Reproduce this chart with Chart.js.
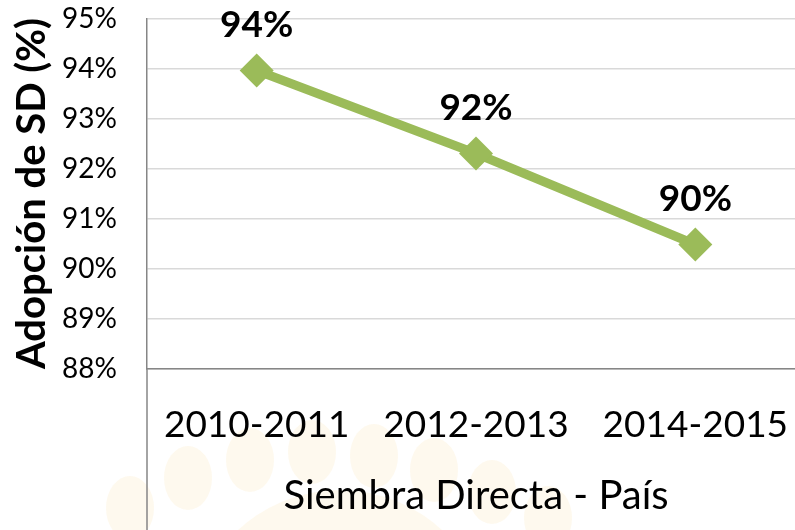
<!DOCTYPE html>
<html>
<head>
<meta charset="utf-8">
<script src="https://cdn.jsdelivr.net/npm/chart.js@4"></script>
<style>
  html, body { margin: 0; padding: 0; background: #fff; overflow: hidden; }
</style>
</head>
<body>
<canvas id="myChart" width="810" height="530"></canvas>
<script>
// datos
const periods = ["2010-2011", "2012-2013", "2014-2015"];
const adoption = [93.96, 92.3, 90.48];
const yTicks = [88, 89, 90, 91, 92, 93, 94, 95];

const green = "#9BBB59";
const axisGrey = "#868686";

// etiquetas de datos encima de cada punto
const valueLabels = {
    id: "valueLabels",
    afterDatasetsDraw(chart) {
        const c = chart.ctx;
        const meta = chart.getDatasetMeta(0);
        c.save();
        c.font = "bold 37px Lato";
        c.fillStyle = "#000";
        c.textAlign = "center";
        c.textBaseline = "middle";
        meta.data.forEach((pt, i) => {
            c.fillText(Math.round(adoption[i]) + "%", pt.x, pt.y - 45);
        });
        c.restore();
    }
};

// marca de agua tenue (sol) y la línea vertical que sigue hasta abajo
const background = {
    id: "background",
    beforeDraw(chart) {
        const c = chart.ctx;
        const a = chart.chartArea;
        c.save();
        c.fillStyle = "rgba(250, 215, 150, 0.16)";
        [[130, 508], [188, 478], [250, 460], [312, 452], [374, 456], [434, 470], [492, 492], [548, 518]]
            .forEach(([x, y]) => {
                c.beginPath();
                c.ellipse(x, y, 24, 32, 0, 0, Math.PI * 2);
                c.fill();
            });
        c.beginPath();
        c.arc(340, 640, 150, 0, Math.PI * 2);
        c.fill();

        c.strokeStyle = axisGrey;
        c.lineWidth = 1.5;
        c.beginPath();
        c.moveTo(a.left, a.bottom);
        c.lineTo(a.left, chart.height);
        c.stroke();
        c.restore();
    }
};

const ctx = document.getElementById("myChart");

new Chart(ctx, {
    type: "line",
    data: {
        labels: periods,
        datasets: [{
            data: adoption,
            borderColor: green,
            backgroundColor: green,
            borderWidth: 9,
            pointStyle: "rectRot",
            pointRadius: 17,
            pointBorderWidth: 0,
            pointBackgroundColor: green,
            tension: 0
        }]
    },
    options: {
        responsive: false,
        animation: false,
        layout: { autoPadding: false, padding: { left: 0, top: 18.5, right: 5, bottom: 10 } },
        plugins: {
            legend: { display: false },
            tooltip: { enabled: false }
        },
        scales: {
            x: {
                offset: true,
                afterFit(scale) {
                    scale.height = 151.5;
                    scale.paddingLeft = 0;
                    scale.paddingRight = 0;
                },
                grid: { display: false },
                border: { display: true, color: axisGrey, width: 1.5 },
                ticks: {
                    color: "#000",
                    font: { family: "Lato", size: 37 },
                    padding: 26,
                    maxRotation: 0
                },
                title: {
                    display: true,
                    text: "Siembra Directa - País",
                    color: "#000",
                    font: { family: "Lato", size: 40 },
                    padding: { top: 0, bottom: 0 }
                }
            },
            y: {
                min: yTicks[0],
                max: yTicks[yTicks.length - 1],
                afterBuildTicks(scale) {
                    scale.ticks = yTicks.map(v => ({ value: v }));
                },
                afterFit(scale) {
                    scale.width = 147;
                    scale.paddingTop = 0;
                    scale.paddingBottom = 0;
                },
                grid: { color: "#d9d9d9", lineWidth: 1.5, drawTicks: false },
                border: { display: true, color: axisGrey, width: 1.5 },
                ticks: {
                    color: "#000",
                    font: { family: "Lato", size: 28 },
                    padding: 30,
                    callback: v => v + "%"
                },
                title: {
                    display: true,
                    text: "Adopción de SD (%)",
                    color: "#000",
                    font: { family: "Lato", size: 40, weight: "bold" },
                    padding: { top: 8, bottom: 0 }
                }
            }
        }
    },
    plugins: [valueLabels, background]
});
</script>
</body>
</html>
